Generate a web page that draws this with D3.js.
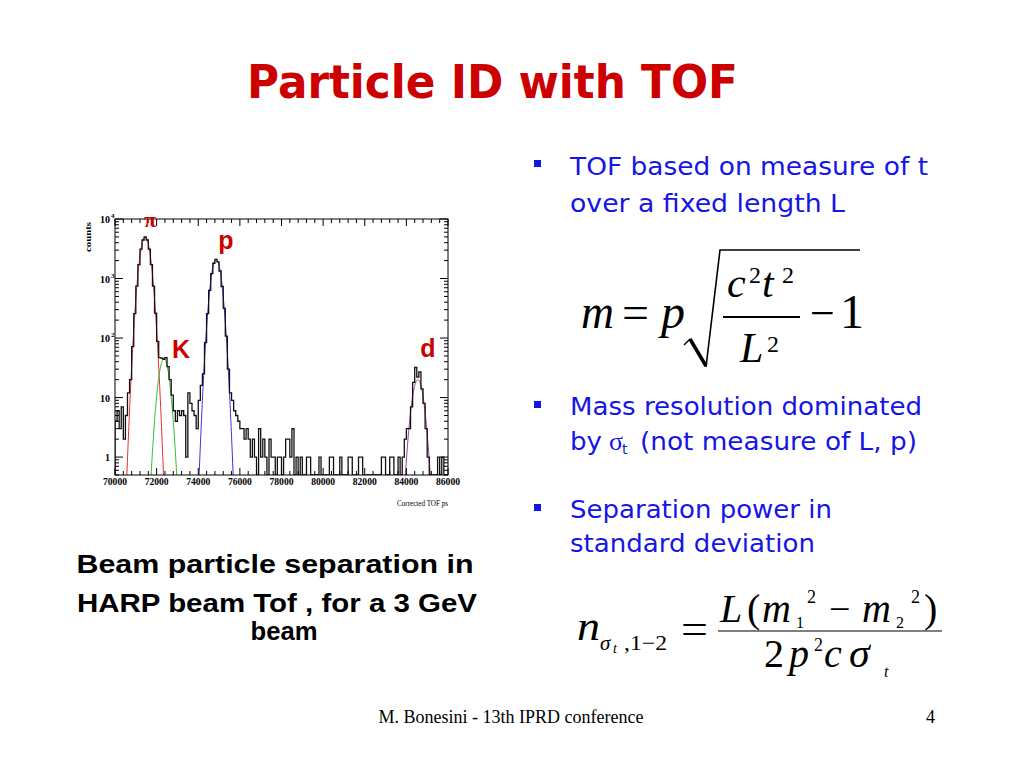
<!DOCTYPE html>
<html><head><meta charset="utf-8">
<script src="https://cdn.jsdelivr.net/npm/d3@7"></script>
<style>body{margin:0;background:#fff}svg{display:block}</style>
</head><body>
<svg id="c" width="1024" height="768"></svg>
<script>
// ---------------- data ----------------
const binStart = 70000;
const binWidth = 100;
const counts = [
  4, 6, 3, 7, 2, 5, 12, 20, 72, 258,
  748, 1715, 3110, 4440, 5000, 4440, 3110, 1715, 748, 262,
  88, 47, 46, 44, 47, 33, 20, 11, 6, 4,
  6, 5, 6, 5, 1, 12, 8, 6, 5, 3,
  9, 16, 25, 84, 258, 632, 1210, 1806, 2097, 1898,
  1337, 734, 315, 108, 30, 12, 9, 6, 5, 4,
  3, 3, 2, 3, 2, 1, 2, 1, 0, 3,
  1, 2, 1, 0, 2, 1, 1, 0, 1, 1,
  0, 1, 2, 2, 1, 3, 0, 1, 0, 1,
  0, 0, 1, 1, 0, 0, 0, 0, 1, 0,
  0, 0, 0, 1, 1, 0, 0, 0, 1, 0,
  0, 0, 1, 1, 0, 0, 0, 1, 1, 0,
  0, 0, 0, 0, 0, 0, 0, 0, 1, 1,
  0, 0, 1, 1, 0, 0, 1, 0, 1, 2,
  3, 3, 7, 18, 32, 22, 27, 14, 8, 3,
  1, 0, 0, 0, 0, 1, 0, 1, 0, 0
];
const fitLabels = ["π", "K", "p", "d"];
const fitAmplitude = [5000, 45, 2100, 20];
const fitMean = [71450, 72350, 74860, 84550];
const fitSigma = [205, 205, 200, 220];
const xTickValues = [70000, 72000, 74000, 76000, 78000, 80000, 82000, 84000, 86000];
const yTickExponents = [0, 1, 2, 3, 4];

// ---------------- styles ----------------
const fitColors = ["#e03030", "#30c030", "#3535e0", "#a030a0"];
const RED = "#cc0000";
const BLUE = "#1515e5";
const SERIF = "'Liberation Serif','Times New Roman',serif";
const SANS = "'DejaVu Sans','Comic Sans MS',sans-serif";

const svg = d3.select("#c");

// ---------------- chart ----------------
const x = d3.scaleLinear().domain([70000, 86000]).range([115, 448]);
const y = d3.scaleLog().domain([0.5, 10000]).range([475, 219]);
const yFloor = y.domain()[0];

svg.append("defs").append("clipPath").attr("id", "plotclip")
  .append("rect").attr("x", x.range()[0]).attr("y", y.range()[1])
  .attr("width", x.range()[1] - x.range()[0]).attr("height", y.range()[0] - y.range()[1]);

const plot = svg.append("g").attr("clip-path", "url(#plotclip)");

// fit curves
fitMean.forEach((mu, i) => {
  const s = fitSigma[i], A = fitAmplitude[i];
  const pts = d3.range(mu - 5 * s, mu + 5 * s + 1, 10).map(t => [t, A * Math.exp(-0.5 * ((t - mu) / s) ** 2)]);
  plot.append("path")
    .attr("d", d3.line().x(d => x(d[0])).y(d => y(Math.max(d[1], 0.3)))(pts))
    .attr("fill", "none").attr("stroke", fitColors[i]).attr("stroke-width", 1);
});

// histogram (step)
const histPts = [[binStart, yFloor]];
counts.forEach((v, i) => {
  const lo = binStart + i * binWidth, hi = lo + binWidth;
  const c = v > 0 ? v : yFloor;
  histPts.push([lo, c], [hi, c]);
});
histPts.push([binStart + counts.length * binWidth, yFloor]);
plot.append("path")
  .attr("d", d3.line().x(d => x(d[0])).y(d => y(d[1]))(histPts))
  .attr("fill", "none").attr("stroke", "#111").attr("stroke-width", 1.3)
  .attr("stroke-linejoin", "miter");

// frame
svg.append("rect").attr("x", x.range()[0]).attr("y", y.range()[1])
  .attr("width", x.range()[1] - x.range()[0]).attr("height", y.range()[0] - y.range()[1])
  .attr("fill", "none").attr("stroke", "#000").attr("stroke-width", 1);

// x ticks (bottom & top, inward)
const tickG = svg.append("g").attr("stroke", "#000").attr("stroke-width", 1);
d3.range(70000, 86001, 400).forEach(v => {
  const major = v % 2000 === 0;
  const len = major ? 7 : 4;
  tickG.append("line").attr("x1", x(v)).attr("x2", x(v)).attr("y1", y.range()[0]).attr("y2", y.range()[0] - len);
  tickG.append("line").attr("x1", x(v)).attr("x2", x(v)).attr("y1", y.range()[1]).attr("y2", y.range()[1] + len);
});
// y ticks (left & right, inward)
const yMinor = [];
[-1, 0, 1, 2, 3].forEach(e => d3.range(2, 10).forEach(m => {
  const v = m * Math.pow(10, e);
  if (v >= 0.5 && v <= 10000) yMinor.push(v);
}));
yTickExponents.forEach(e => {
  const v = Math.pow(10, e);
  tickG.append("line").attr("x1", x.range()[0]).attr("x2", x.range()[0] + 8).attr("y1", y(v)).attr("y2", y(v));
  tickG.append("line").attr("x1", x.range()[1]).attr("x2", x.range()[1] - 8).attr("y1", y(v)).attr("y2", y(v));
});
yMinor.forEach(v => {
  tickG.append("line").attr("x1", x.range()[0]).attr("x2", x.range()[0] + 4).attr("y1", y(v)).attr("y2", y(v));
  tickG.append("line").attr("x1", x.range()[1]).attr("x2", x.range()[1] - 4).attr("y1", y(v)).attr("y2", y(v));
});

// x tick labels
svg.append("g").selectAll("text").data(xTickValues).join("text")
  .attr("x", d => x(d)).attr("y", 485).attr("text-anchor", "middle")
  .attr("font-family", SERIF).attr("font-weight", "bold").attr("font-size", 10)
  .attr("textLength", 24).attr("lengthAdjust", "spacingAndGlyphs")
  .text(d => d);

// y tick labels
yTickExponents.forEach(e => {
  const v = Math.pow(10, e);
  const yy = y(v) + 4;
  if (e === 0) {
    svg.append("text").attr("x", 110).attr("y", yy).attr("text-anchor", "end")
      .attr("font-family", SERIF).attr("font-weight", "bold").attr("font-size", 10).text("1");
  } else {
    svg.append("text").attr("x", 110).attr("y", yy).attr("text-anchor", "end")
      .attr("font-family", SERIF).attr("font-weight", "bold").attr("font-size", 10).text("10");
    if (e > 1) {
      svg.append("text").attr("x", 111).attr("y", yy - 5)
        .attr("font-family", SERIF).attr("font-weight", "bold").attr("font-size", 7).text(e);
    }
  }
});

// axis titles
svg.append("text").attr("transform", "translate(91,222) rotate(-90)").attr("text-anchor", "end")
  .attr("font-family", SERIF).attr("font-weight", "bold").attr("font-size", 9)
  .attr("textLength", 30).attr("lengthAdjust", "spacingAndGlyphs").text("counts");
svg.append("text").attr("x", 448).attr("y", 506).attr("text-anchor", "end")
  .attr("font-family", SERIF).attr("font-size", 9)
  .attr("textLength", 51).attr("lengthAdjust", "spacingAndGlyphs").text("Corrected TOF ps");

// particle labels
const AR = "'Liberation Sans',Arial,sans-serif";
const labelPos = [[150, 227, SERIF, 22], [181, 358, AR, 25], [226, 249, AR, 25], [428, 357, AR, 25]];
fitLabels.forEach((lab, i) => {
  const p = labelPos[i];
  svg.append("text").attr("x", p[0]).attr("y", p[1]).attr("text-anchor", "middle")
    .attr("font-family", p[2]).attr("font-weight", "bold").attr("font-size", p[3])
    .attr("fill", RED).text(lab);
});

// ---------------- slide text ----------------
function T(xp, yp, str, o = {}) {
  const t = svg.append("text").attr("x", xp).attr("y", yp)
    .attr("font-family", o.ff || SERIF).attr("font-size", o.fs || 20)
    .attr("fill", o.fill || "#000").text(str);
  if (o.fw) t.attr("font-weight", o.fw);
  if (o.fst) t.attr("font-style", o.fst);
  if (o.anchor) t.attr("text-anchor", o.anchor);
  if (o.len) t.attr("textLength", o.len).attr("lengthAdjust", "spacingAndGlyphs");
  return t;
}

// title
T(247, 98, "Particle ID with TOF", { ff: SANS, fs: 46, fw: "bold", fill: RED, len: 491 });

// bullets
[[160], [401], [504]].forEach(b => {
  svg.append("rect").attr("x", 534).attr("y", b[0]).attr("width", 7).attr("height", 7).attr("fill", BLUE);
});
T(570, 175, "TOF based on measure of t", { ff: SANS, fs: 24, fill: BLUE, len: 358 });
T(570, 212, "over a fixed length L", { ff: SANS, fs: 24, fill: BLUE, len: 275 });
T(570, 415, "Mass resolution dominated", { ff: SANS, fs: 24, fill: BLUE, len: 352 });
T(570, 450, "by", { ff: SANS, fs: 24, fill: BLUE, len: 32 });
T(609, 450, "σ", { ff: SERIF, fs: 26, fill: BLUE });
T(622, 454, "t", { ff: SANS, fs: 14, fill: BLUE });
T(640, 450, "(not measure of L, p)", { ff: SANS, fs: 24, fill: BLUE, len: 277 });
T(570, 518, "Separation power in", { ff: SANS, fs: 24, fill: BLUE, len: 262 });
T(570, 552, "standard deviation", { ff: SANS, fs: 24, fill: BLUE, len: 245 });

// formula 1: m = p sqrt(c^2 t^2 / L^2 - 1)
T(581, 328, "m", { fs: 48, fst: "italic", len: 33 });
T(622, 328, "=", { fs: 46, len: 27 });
T(661, 328, "p", { fs: 48, fst: "italic" });
svg.append("path").attr("d", "M684,345 L690,339").attr("stroke", "#000").attr("stroke-width", 1.5).attr("fill", "none");
svg.append("path").attr("d", "M690,339 L706,366").attr("stroke", "#000").attr("stroke-width", 3.5).attr("fill", "none");
svg.append("path").attr("d", "M706,367 L720,250 L860,250").attr("stroke", "#000").attr("stroke-width", 1.6).attr("fill", "none");
T(727, 297, "c", { fs: 42, fst: "italic" });
T(749, 283, "2", { fs: 24 });
T(762, 297, "t", { fs: 42, fst: "italic" });
T(782, 283, "2", { fs: 24 });
svg.append("line").attr("x1", 723).attr("x2", 800).attr("y1", 317).attr("y2", 317).attr("stroke", "#000").attr("stroke-width", 2);
T(740, 362, "L", { fs: 42, fst: "italic" });
T(767, 352, "2", { fs: 24 });
T(810, 328, "−", { fs: 44 });
T(840, 328, "1", { fs: 48 });

// formula 2
T(577, 640, "n", { fs: 42, fst: "italic", len: 23 });
T(600, 650, "σ", { fs: 21, fst: "italic" });
T(613, 653, "t", { fs: 14, fst: "italic" });
T(624, 650, ",1−2", { fs: 21, len: 43 });
T(681, 643, "=", { fs: 42, len: 27 });
svg.append("line").attr("x1", 718).attr("x2", 942).attr("y1", 631).attr("y2", 631).attr("stroke", "#555").attr("stroke-width", 1.5);
T(720, 622, "L", { fs: 40, fst: "italic" });
T(747, 622, "(", { fs: 40 });
T(762, 622, "m", { fs: 40, fst: "italic" });
T(796, 628, "1", { fs: 16 });
T(807, 603, "2", { fs: 18 });
T(829, 622, "−", { fs: 38 });
T(862, 622, "m", { fs: 40, fst: "italic" });
T(896, 628, "2", { fs: 16 });
T(911, 603, "2", { fs: 18 });
T(924, 622, ")", { fs: 40 });
T(764, 667, "2", { fs: 40 });
T(789, 667, "p", { fs: 40, fst: "italic" });
T(814, 651, "2", { fs: 18 });
T(824, 667, "c", { fs: 40, fst: "italic" });
T(849, 667, "σ", { fs: 42, fst: "italic" });
T(884, 677, "t", { fs: 16, fst: "italic" });

// caption
const CAP = "'Liberation Sans',Arial,sans-serif";
T(275, 573, "Beam particle separation in", { ff: CAP, fs: 25, fw: "bold", anchor: "middle", len: 397 });
T(277, 612, "HARP beam Tof , for a 3 GeV", { ff: CAP, fs: 25, fw: "bold", anchor: "middle", len: 400 });
T(284, 640, "beam", { ff: CAP, fs: 26, fw: "bold", anchor: "middle", len: 67 });

// footer
T(511, 723, "M. Bonesini - 13th IPRD conference", { fs: 18, anchor: "middle" });
T(926, 723, "4", { fs: 18 });
</script>
</body></html>
